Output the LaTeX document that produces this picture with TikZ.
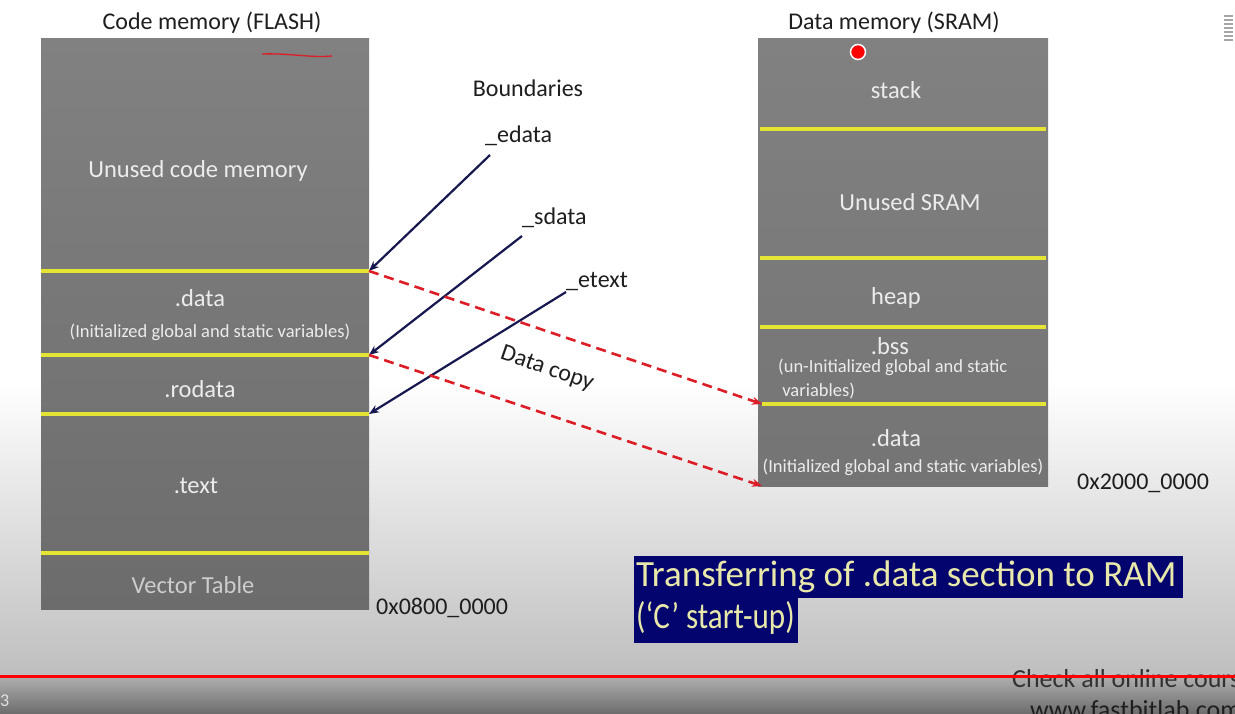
\documentclass[tikz,border=0pt]{standalone}
\usepackage{fontspec}
\setmainfont{Carlito}
\usetikzlibrary{arrows.meta}
\definecolor{boxtop}{RGB}{129,129,129}
\definecolor{boxbot}{RGB}{108,108,108}
\definecolor{sramtop}{RGB}{129,129,129}
\definecolor{srambot}{RGB}{116,116,116}
\definecolor{ylw}{RGB}{228,228,52}
\definecolor{lbl}{RGB}{236,236,236}
\definecolor{ptrcol}{RGB}{24,24,80}
\definecolor{cpycol}{RGB}{220,30,40}
\definecolor{navybox}{RGB}{4,4,110}
\definecolor{navytext}{RGB}{232,232,170}
\definecolor{bgbot}{RGB}{190,190,190}
\definecolor{txt}{RGB}{30,30,30}
\tikzset{
  membox/.style={draw=none, inner sep=0pt, anchor=north west},
  seclbl/.style={text=lbl, font=\fontsize{24.5}{28}\selectfont, inner sep=0pt},
  smalllbl/.style={text=lbl, font=\fontsize{18.5}{21}\selectfont, inner sep=0pt},
  heading/.style={text=txt, font=\fontsize{24}{28}\selectfont, inner sep=0pt},
  bline/.style={ylw, line width=3.5pt},
  ptr/.style={ptrcol, line width=2.2pt, -{Stealth[length=10pt,width=8pt]}},
  cpy/.style={cpycol, line width=2.6pt, dash pattern=on 10pt off 6pt, -{Stealth[length=10pt,width=8pt]}},
}
\begin{document}
\begin{tikzpicture}[x=1pt,y=-1pt]
\useasboundingbox (0,0) rectangle (1235,714);
\clip (0,0) rectangle (1235,714);
% background
\fill[white] (0,0) rectangle (1235,382);
\shade[top color=white, bottom color=bgbot] (0,381) rectangle (1235,677);
\shade[top color={rgb,255:red,176;green,176;blue,176}, bottom color={rgb,255:red,108;green,108;blue,108}] (0,676) rectangle (1235,714);

% Flash memory
\node[heading] (flashtitle) at (212,23) {Code memory (FLASH)};
\node[membox, minimum width=328pt, minimum height=571pt, shade, top color=boxtop, bottom color=boxbot] (flash) at (41,38) {};
\draw[cpycol, line width=1.3pt] (262,54) .. controls (290,53) and (310,58) .. (332,56);
\coordinate (fA) at (369,271);
\coordinate (fB) at (369,355);
\coordinate (fC) at (369,414);
\draw[bline] (41,271) -- (fA);
\draw[bline] (41,355) -- (fB);
\draw[bline] (41,414) -- (fC);
\draw[bline] (41,553) -- (369,553);
\node[seclbl] (unusedcode) at (198,171) {Unused code memory};
\node[seclbl] (fdata) at (200,298) {.data};
\node[smalllbl] (fdatad) at (210,332) {(Initialized global and static variables)};
\node[seclbl] (frodata) at (200,389) {.rodata};
\node[seclbl] (ftext) at (196,486) {.text};
\node[seclbl, text={rgb,255:red,205;green,205;blue,205}] (fvec) at (193,585) {Vector Table};
\node[heading, anchor=west] (flashaddr) at (376,608) {0x0800\_0000};

% SRAM
\node[heading] (sramtitle) at (894,23) {Data memory (SRAM)};
\node[membox, minimum width=290pt, minimum height=448pt, shade, top color=sramtop, bottom color=srambot] (sram) at (758,38) {};
\draw[bline] (760,129) -- (1046,129);
\draw[bline] (760,258) -- (1046,258);
\draw[bline] (760,327) -- (1046,327);
\coordinate (sA) at (762,404);
\coordinate (sB) at (762,486);
\draw[bline] (sA) -- (1046,404);
\node[seclbl] (stack) at (896,90) {stack};
\node[seclbl] (unusedsram) at (910,202) {Unused SRAM};
\node[seclbl] (heap) at (896,298) {heap};
\node[seclbl] (bss) at (890,346) {.bss};
\node[smalllbl, align=left, anchor=north west, font=\fontsize{18.5}{24}\selectfont] (bssd) at (778,359) {(un-Initialized global and static\\ \ variables)};
\node[seclbl] (sdata) at (896,438) {.data};
\node[smalllbl] (sdatad) at (903,467) {(Initialized global and static variables)};
\node[heading, anchor=west] (sramaddr) at (1077,483) {0x2000\_0000};
\node[circle, fill=red, draw=white, line width=1.5pt, minimum size=15pt, inner sep=0pt] (marker) at (858,52) {};

% Boundaries
\node[heading] (boundaries) at (528,88) {Boundaries};
\node[heading, anchor=west] (edata) at (485,136) {\_edata};
\node[heading, anchor=west] (sdatalbl) at (522,218) {\_sdata};
\node[heading, anchor=west] (etext) at (566,282) {\_etext};
\coordinate (eS) at (490,155);
\coordinate (sS) at (522,236);
\coordinate (tS) at (566,292);
\draw[ptr] (eS) -- (fA);
\draw[ptr] (sS) -- (fB);
\draw[ptr] (tS) -- (fC);

% Data copy
\draw[cpy] (fA) -- (sA);
\draw[cpy] (fB) -- (sB);
\node[heading, rotate=-19] (datacopy) at (547,369) {Data copy};

% caption
\fill[navybox] (634,556) rectangle (1183,598);
\fill[navybox] (634,597) rectangle (798,643);
\node[text=navytext, font=\fontsize{37}{42}\selectfont, align=left, anchor=north west, inner sep=0pt] (caption) at (636,561) {Transferring of .data section to RAM\\\scalebox{0.84}[1]{(‘C’ start-up)}};

% video overlay
\node[text={rgb,255:red,50;green,50;blue,50}, font=\fontsize{26}{30}\selectfont, anchor=west, inner sep=0pt] (check) at (1012,679) {Check all online courses};
\node[text={rgb,255:red,30;green,30;blue,30}, font=\fontsize{26}{30}\selectfont, anchor=west, inner sep=0pt] (web) at (1030,710) {www.fastbitlab.com};
\coordinate (pl) at (0,676);
\coordinate (pr) at (1235,676);
\draw[red, line width=3pt] (pl) -- (pr);
\node[text={rgb,255:red,225;green,225;blue,225}, font=\fontsize{18}{20}\selectfont, anchor=west, inner sep=0pt] (pagenum) at (0,701) {3};
\foreach \yy in {16,20,...,40} \draw[gray!70, line width=1.2pt] (1224,\yy) -- (1233,\yy);
\end{tikzpicture}
\end{document}
